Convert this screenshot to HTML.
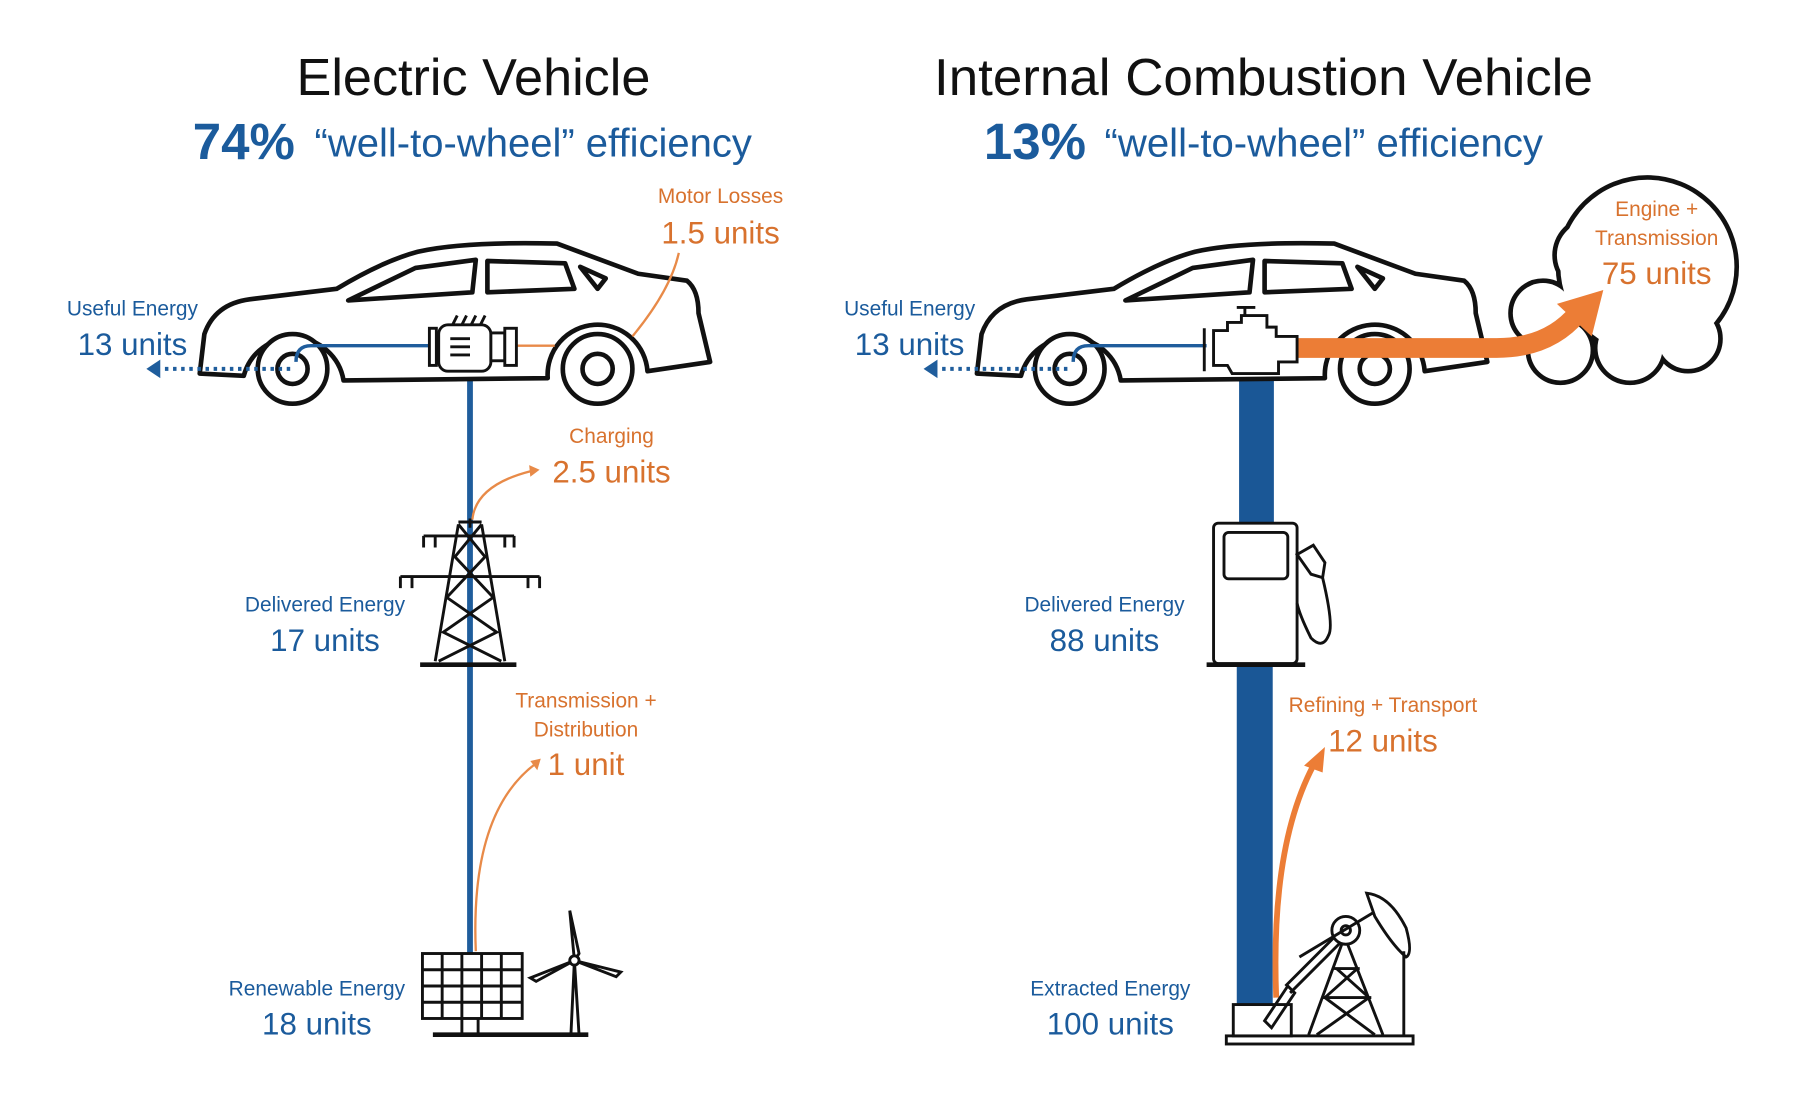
<!DOCTYPE html>
<html><head><meta charset="utf-8"><style>
html,body{margin:0;padding:0;background:#fff;}
svg{display:block;}
text{font-family:"Liberation Sans",Arial,sans-serif;}
.t{font-size:45px;fill:#111;text-anchor:middle;}
.b{fill:#1b5b9c;}
.o{fill:#d8722e;}
.s{font-size:18px;text-anchor:middle;}
.l{font-size:27px;text-anchor:middle;}
.k{fill:none;stroke:#111;stroke-width:4;stroke-linejoin:round;stroke-linecap:round;}
.k2{fill:none;stroke:#111;stroke-width:2.5;}
</style></head><body>
<svg width="1810" height="1102" viewBox="0 0 1560 950" xmlns="http://www.w3.org/2000/svg">
<defs>
<g id="car">
<path class="k" d="M172,322 L176,288 Q185,262 215,258 L290,249 Q330,225 360,217 Q400,208 480,210 L550,236 L592,242 Q602,250 602,270 L612,312 L558,320 A43,43 0 0 0 472,326 L296,328 A44,44 0 0 0 210,324 Z" style="fill:#fff"/>
<path class="k" d="M300,259 L358,231 L410,224 L407,252 Z"/>
<path class="k" d="M420,225 L487,227 L495,249 L420,252 Z"/>
<path class="k" d="M500,230 L522,240 L515,249 Z"/>
<circle cx="252" cy="318" r="30" class="k" style="fill:#fff"/>
<circle cx="252" cy="318" r="13" class="k"/>
<circle cx="515" cy="318" r="30" class="k" style="fill:#fff"/>
<circle cx="515" cy="318" r="13" class="k"/>
</g>
</defs>

<text class="t" x="408" y="82">Electric Vehicle</text>
<text x="166" y="137" class="b" font-size="44" font-weight="bold">74%</text>
<text x="271" y="135" class="b" font-size="34" textLength="377" lengthAdjust="spacingAndGlyphs">“well-to-wheel” efficiency</text>
<text class="t" x="1089" y="82" textLength="568" lengthAdjust="spacingAndGlyphs">Internal Combustion Vehicle</text>
<text x="848" y="137" class="b" font-size="44" font-weight="bold">13%</text>
<text x="952" y="135" class="b" font-size="34" textLength="378" lengthAdjust="spacingAndGlyphs">“well-to-wheel” efficiency</text>

<!-- ===== EV ===== -->
<line x1="405" y1="320" x2="405" y2="822" stroke="#1f5d9c" stroke-width="5"/>
<use href="#car"/>
<path d="M255,312 Q255,298 268,298 L375,298" stroke="#1f5d9c" stroke-width="3" fill="none"/>
<line x1="250" y1="318" x2="138" y2="318" stroke="#1f5d9c" stroke-width="3.5" stroke-dasharray="3,4"/>
<polygon points="126,318 138,310 138,326" fill="#1f5d9c"/>
<line x1="445" y1="298" x2="478" y2="298" stroke="#e88a48" stroke-width="2"/>
<path d="M545,290 Q578,250 585,218" stroke="#e88a48" stroke-width="2" fill="none"/>
<g class="k2">
<rect x="370" y="283" width="6" height="32" style="fill:#fff"/>
<rect x="378" y="280" width="45" height="40" rx="8" style="fill:#fff"/>
<rect x="423" y="287" width="12" height="24" style="fill:#fff"/>
<rect x="435" y="283" width="10" height="32" style="fill:#fff"/>
<line x1="388" y1="292" x2="405" y2="292"/><line x1="388" y1="299" x2="405" y2="299"/><line x1="388" y1="306" x2="405" y2="306"/>
<path d="M390,280 l4,-8 M398,280 l4,-8 M406,280 l4,-8 M414,280 l4,-8"/>
</g>
<text class="o s" x="621" y="175">Motor Losses</text>
<text class="o l" x="621" y="210">1.5 units</text>
<text class="b s" x="114" y="272">Useful Energy</text>
<text class="b l" x="114" y="306">13 units</text>
<path d="M407,448 Q410,418 458,406" stroke="#e88a48" stroke-width="2" fill="none"/>
<polygon points="465,405 456,401 457,411" fill="#e88a48"/>
<text class="o s" x="527" y="382">Charging</text>
<text class="o l" x="527" y="416">2.5 units</text>
<g class="k2">
<path d="M395,450 L415,450 M405,447 L405,455"/>
<line x1="365" y1="462" x2="443" y2="462"/>
<line x1="345" y1="497" x2="465" y2="497"/>
<path d="M365,462 v10 M375,462 v10 M435,462 v10 M443,462 v10 M345,497 v10 M355,497 v10 M455,497 v10 M465,497 v10"/>
<path d="M395,452 L375,570 M415,452 L435,570"/>
<path d="M395,452 L418,480 L385,515 L428,545 L378,570 M415,452 L392,480 L425,515 L382,545 L432,570"/>
<line x1="362" y1="573" x2="445" y2="573" stroke-width="4"/>
</g>
<text class="b s" x="280" y="527">Delivered Energy</text>
<text class="b l" x="280" y="561">17 units</text>
<path d="M410,820 Q405,700 462,658" stroke="#e88a48" stroke-width="2" fill="none"/>
<polygon points="466,654 457,656 463,664" fill="#e88a48"/>
<text class="o s" x="505" y="610">Transmission +</text>
<text class="o s" x="505" y="635">Distribution</text>
<text class="o l" x="505" y="668">1 unit</text>
<g class="k2">
<rect x="364" y="822" width="86" height="56" fill="#fff"/>
<path d="M381,822 v56 M398,822 v56 M415,822 v56 M432,822 v56 M364,836 h86 M364,850 h86 M364,864 h86"/>
<path d="M398,878 v14 M412,878 v14"/>
<line x1="373" y1="892" x2="507" y2="892" stroke-width="4"/>
<path d="M492,892 L495,828 L499,892"/>
<path d="M495,828 L491,785 L499,822 Z M495,828 L457,843 L462,846 Z M495,828 L535,838 L531,842 Z"/>
<circle cx="495" cy="828" r="4" fill="#fff"/>
</g>
<text class="b s" x="273" y="858">Renewable Energy</text>
<text class="b l" x="273" y="892">18 units</text>

<!-- ===== ICE ===== -->
<rect x="1068" y="322" width="30" height="130" fill="#1a5796"/>
<rect x="1066" y="573" width="31" height="294" fill="#1a5796"/>
<g stroke="#111" stroke-width="8" fill="#111">
<circle cx="1420" cy="230" r="75"/><circle cx="1372" cy="220" r="30"/><circle cx="1330" cy="270" r="26"/>
<circle cx="1345" cy="302" r="26"/><circle cx="1405" cy="300" r="28"/><circle cx="1455" cy="292" r="26"/>
</g>
<g fill="#fff">
<circle cx="1420" cy="230" r="75"/><circle cx="1372" cy="220" r="30"/><circle cx="1330" cy="270" r="26"/>
<circle cx="1345" cy="302" r="26"/><circle cx="1405" cy="300" r="28"/><circle cx="1455" cy="292" r="26"/>
</g>
<g transform="translate(670,0)"><use href="#car"/></g>
<path d="M925,312 Q925,298 938,298 L1040,298" stroke="#1f5d9c" stroke-width="3" fill="none"/>
<line x1="920" y1="318" x2="808" y2="318" stroke="#1f5d9c" stroke-width="3.5" stroke-dasharray="3,4"/>
<polygon points="796,318 808,310 808,326" fill="#1f5d9c"/>
<path d="M1118,300 L1290,300 Q1335,300 1360,270" stroke="#ec7d36" stroke-width="17" fill="none"/>
<polygon points="1382,250 1342,262 1372,290" fill="#ec7d36"/>
<g class="k2">
<path fill="#fff" d="M1046,285 L1058,285 L1058,278 L1070,278 L1070,272 L1092,272 L1092,282 L1100,282 L1100,290 L1118,290 L1118,312 L1102,312 L1102,322 L1062,322 L1058,315 L1046,315 Z"/>
<path d="M1038,283 V320 M1073,272 V265 M1066,265 H1082"/>
</g>
<text class="o s" x="1428" y="186">Engine +</text>
<text class="o s" x="1428" y="211">Transmission</text>
<text class="o l" x="1428" y="245">75 units</text>
<text class="b s" x="784" y="272">Useful Energy</text>
<text class="b l" x="784" y="306">13 units</text>
<g class="k2">
<rect x="1046" y="451" width="72" height="121" rx="4" fill="#fff"/>
<rect x="1055" y="459" width="55" height="40" rx="4"/>
<line x1="1040" y1="573" x2="1125" y2="573" stroke-width="4"/>
<path d="M1118,478 L1132,470 L1142,485 L1140,498 L1130,495 Z"/>
<path d="M1140,498 Q1150,540 1145,548 Q1140,560 1130,550 Q1120,530 1118,520"/>
</g>
<text class="b s" x="952" y="527">Delivered Energy</text>
<text class="b l" x="952" y="561">88 units</text>
<path d="M1100,860 Q1095,730 1132,660" stroke="#ec7d36" stroke-width="5" fill="none"/>
<polygon points="1142,644 1124,660 1140,666" fill="#ec7d36"/>
<text class="o s" x="1192" y="614">Refining + Transport</text>
<text class="o l" x="1192" y="648">12 units</text>
<g class="k2">
<rect x="1057" y="893" width="161" height="7" fill="#fff"/>
<rect x="1063" y="866" width="50" height="27" fill="#fff"/>
<path d="M1090,880 L1110,850 L1116,856 L1096,886 Z"/>
<path d="M1108,850 L1158,800 M1112,856 L1160,808"/>
<path d="M1158,810 L1128,892 M1160,810 L1192,892 M1150,835 L1172,835 M1140,860 L1182,860 M1152,835 L1180,860 L1135,892 M1170,835 L1142,860 L1185,892"/>
<circle cx="1160" cy="802" r="12" fill="#fff"/><circle cx="1160" cy="802" r="4"/>
<path d="M1120,825 L1195,780"/>
<path d="M1178,770 Q1198,772 1212,800 Q1218,822 1212,825 Q1200,815 1185,790 Z" fill="#fff"/>
<path d="M1210,820 L1210,893"/>
</g>
<text class="b s" x="957" y="858">Extracted Energy</text>
<text class="b l" x="957" y="892">100 units</text>
</svg>
</body></html>
